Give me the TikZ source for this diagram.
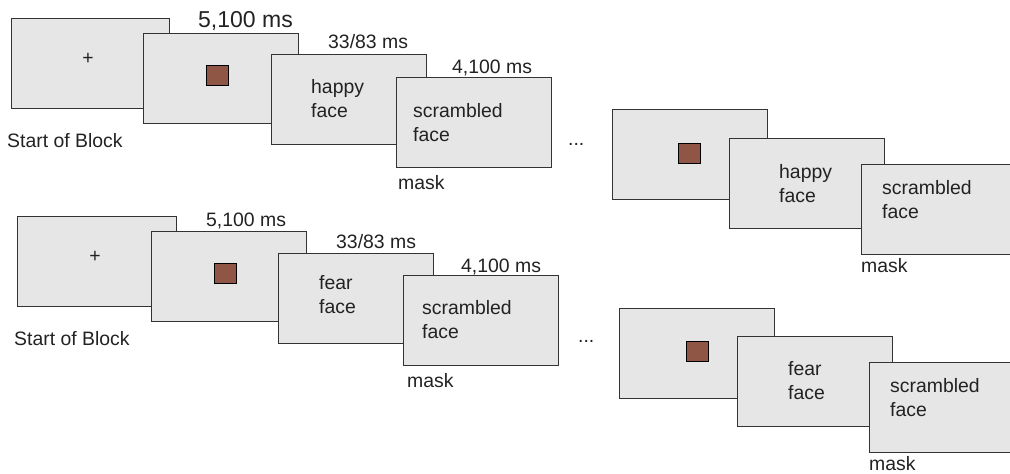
\documentclass[tikz,border=0pt]{standalone}
\usepackage{fontspec}
\setmainfont{Liberation Sans}
\definecolor{linec}{HTML}{333333}
\definecolor{scrfill}{HTML}{E6E6E6}
\definecolor{txtc}{HTML}{222222}
\definecolor{cuebrown}{HTML}{8F5646}
\newcommand{\lbf}{\fontsize{19.4}{24}\selectfont}
\newcommand{\bigf}{\fontsize{23}{28}\selectfont}
\tikzset{
  scr/.style={draw=linec, fill=scrfill, line width=1.2pt, minimum height=90pt,
    minimum width=155pt, anchor=north west, inner sep=0pt},
  lbl/.style={font=\lbf, text=txtc, anchor=base west, inner sep=0pt, align=left},
  plus/.style={font=\lbf, text=txtc, inner sep=0pt},
  cue/.style={draw=black, fill=cuebrown, line width=1.2pt, minimum width=22pt,
    minimum height=20pt, inner sep=0pt, anchor=north west},
}
\begin{document}
\begin{tikzpicture}[x=1pt, y=-1pt]
\useasboundingbox (0,0) rectangle (1010,474);
% ---------- top left ----------
\node[scr, minimum width=158pt] (t1) at (11,18) {};
\node[plus] (tplus) at (88,59) {+};
\node[scr] (t2) at (143,33) {};
\node[cue] (tcue) at (206,65) {};
\node[scr] (t3) at (271,54) {};
\node[scr] (t4) at (396,77) {};
\node[lbl, font=\bigf] (tdur1) at (198,27) {5,100 ms};
\node[lbl] (tdur2) at (328,48) {33/83 ms};
\node[lbl] (tdur3) at (452,73) {4,100 ms};
\node[lbl] (thappy) at (311,117) {happy\\face};
\node[lbl] (tscr) at (413,141) {scrambled\\face};
\node[lbl] (tstart) at (7,147) {Start of Block};
\node[lbl] (tmask) at (398,189) {mask};
% ---------- top right ----------
\node[lbl] (tdots) at (568,145) {...};
\node[scr] (ta) at (612,109) {};
\node[cue] (tacue) at (678,143) {};
\node[scr] (tb) at (729,138) {};
\node[lbl] (tbhappy) at (779,202) {happy\\face};
\node[scr] (tc) at (861,164) {};
\node[lbl] (tcscr) at (882,218) {scrambled\\face};
\node[lbl] (tcmask) at (861,272) {mask};
% ---------- bottom left ----------
\node[scr, minimum width=159pt] (b1) at (17,216) {};
\node[plus] (bplus) at (95,257) {+};
\node[scr] (b2) at (151,231) {};
\node[cue] (bcue) at (214,263) {};
\node[scr] (b3) at (278,253) {};
\node[scr] (b4) at (403,275) {};
\node[lbl] (bdur1) at (206,226) {5,100 ms};
\node[lbl] (bdur2) at (336,248) {33/83 ms};
\node[lbl] (bdur3) at (461,272) {4,100 ms};
\node[lbl] (bfear) at (319,313) {fear\\face};
\node[lbl] (bscr) at (422,338) {scrambled\\face};
\node[lbl] (bstart) at (14,345) {Start of Block};
\node[lbl] (bmask) at (407,387) {mask};
% ---------- bottom right ----------
\node[lbl] (bdots) at (578,342) {...};
\node[scr] (ba) at (619,308) {};
\node[cue] (bacue) at (686,341) {};
\node[scr] (bb) at (737,336) {};
\node[lbl] (bbfear) at (788,399) {fear\\face};
\node[scr] (bc) at (869,362) {};
\node[lbl] (bcscr) at (890,416) {scrambled\\face};
\node[lbl] (bcmask) at (869,470) {mask};
\end{tikzpicture}
\end{document}
